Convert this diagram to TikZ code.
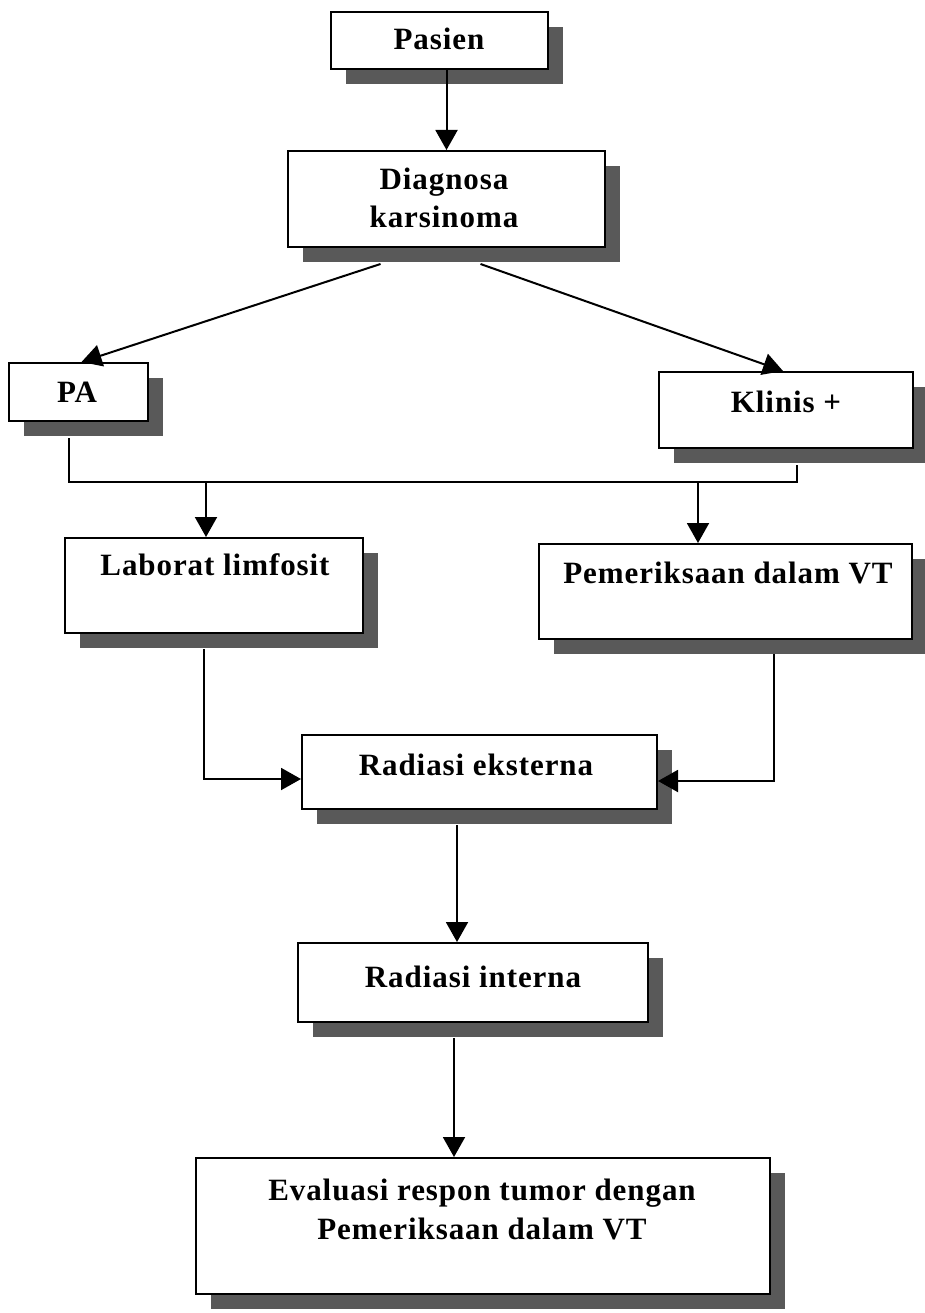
\documentclass[tikz,border=0pt]{standalone}
\usepackage{fontspec}
\setmainfont{Liberation Serif}[LetterSpace=3]
\usetikzlibrary{shadows,arrows.meta}
\begin{document}
\begin{tikzpicture}[x=1pt,y=-1pt,
  boxnode/.style={draw=black, line width=2pt, fill=white, inner sep=0pt,
    drop shadow={shadow xshift=15pt, shadow yshift=-15pt, fill=black!65, opacity=1}},
  lbl/.style={anchor=base, font=\bfseries\fontsize{31}{38}\selectfont, inner sep=0pt},
  conn/.style={line width=2pt},
  arr/.style={conn, -{Triangle[length=20pt,width=22pt]}}]
\useasboundingbox (0,0) rectangle (925,1313);

% boxes
\node[boxnode, minimum width=217pt, minimum height=57pt] (pasien) at (439.5,40.5) {};
\node[boxnode, minimum width=317pt, minimum height=96pt] (diag) at (446.5,199) {};
\node[boxnode, minimum width=139pt, minimum height=58pt] (pa) at (78.5,392) {};
\node[boxnode, minimum width=254pt, minimum height=76pt] (klinis) at (786,410) {};
\node[boxnode, minimum width=298pt, minimum height=95pt] (lab) at (214,585.5) {};
\node[boxnode, minimum width=373pt, minimum height=95pt] (pem) at (725.5,591.5) {};
\node[boxnode, minimum width=355pt, minimum height=74pt] (rext) at (479.5,772) {};
\node[boxnode, minimum width=350pt, minimum height=79pt] (rint) at (473,982.5) {};
\node[boxnode, minimum width=574pt, minimum height=136pt] (eval) at (483,1226) {};

% texts
\node[lbl] (pasienT) at (439,50) {Pasien};
\node[lbl] (diagT1) at (444,190) {Diagnosa};
\node[lbl] (diagT2) at (444,228) {karsinoma};
\node[lbl] (paT) at (77,402) {PA};
\node[lbl] (klinisT) at (786,412) {Klinis +};
\node[lbl] (labT) at (215,575) {Laborat limfosit};
\node[lbl] (pemT) at (728,583) {Pemeriksaan dalam VT};
\node[lbl] (rextT) at (476,775) {Radiasi eksterna};
\node[lbl] (rintT) at (473,987) {Radiasi interna};
\node[lbl] (evalT1) at (482,1200) {Evaluasi respon tumor dengan};
\node[lbl] (evalT2) at (482,1239) {Pemeriksaan dalam VT};

% helper coordinates
\coordinate (jl) at (68.5,482);
\coordinate (jr) at (797,482);
\coordinate (paout) at ([xshift=-10pt,yshift=-16pt]pa.south);
\coordinate (klout) at ([xshift=11pt,yshift=-16pt]klinis.south);
\coordinate (labin) at ([xshift=-8pt]lab.north);
\coordinate (pemin) at ([xshift=-27.5pt]pem.north);
\coordinate (labout) at ([xshift=-10pt,yshift=-15pt]lab.south);
\coordinate (pemout) at ([xshift=48.5pt,yshift=-14pt]pem.south);
\coordinate (rextL) at ([yshift=-7pt]rext.west);
\coordinate (rextR) at ([yshift=-9pt]rext.east);
\coordinate (rextout) at ([xshift=-22.5pt,yshift=-15pt]rext.south);
\coordinate (rintout) at ([xshift=-19pt,yshift=-15pt]rint.south);

% connectors
\draw[arr] (pasien.south -| diag.north) -- (diag.north);
\draw[arr] ([xshift=-66pt,yshift=-16pt]diag.south) -- ([xshift=3pt]pa.north);
\draw[arr] ([xshift=34pt,yshift=-16pt]diag.south) -- ([xshift=-3pt]klinis.north);
\draw[conn] (paout) -- (jl) -- (jr) -- (klout);
\draw[arr] (labin |- jl) -- (labin);
\draw[arr] (pemin |- jl) -- (pemin);
\draw[arr] (labout) |- (rextL);
\draw[arr] (pemout) |- (rextR);
\draw[arr] (rextout) -- (rextout |- rint.north);
\draw[arr] (rintout) -- (rintout |- eval.north);
\end{tikzpicture}
\end{document}
